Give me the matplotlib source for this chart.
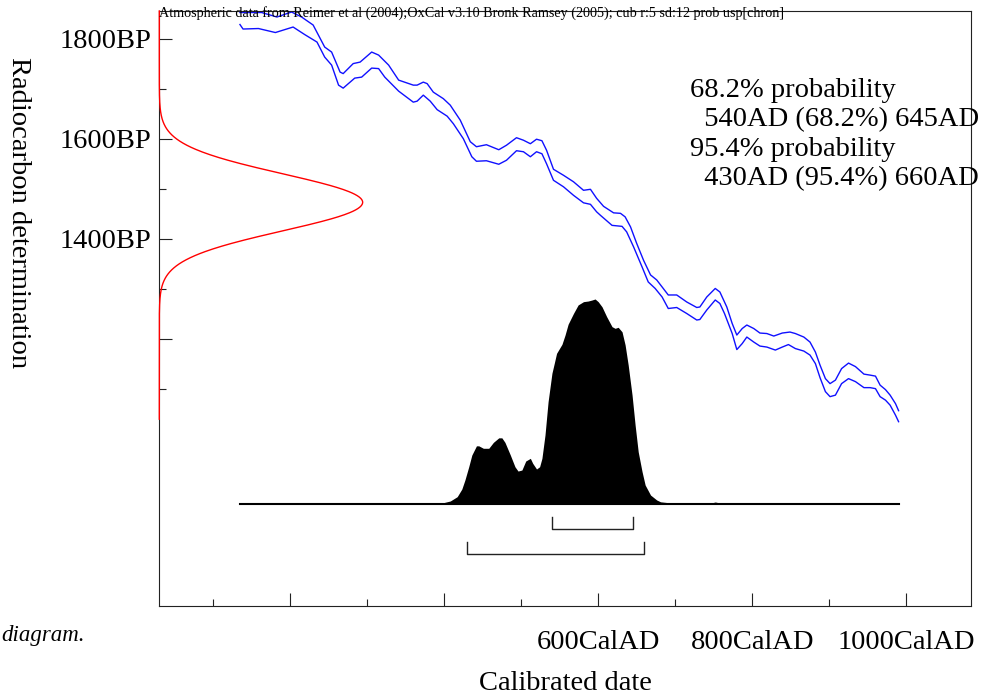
import numpy as np
import matplotlib.pyplot as plt

plt.rcParams['font.family'] = ['Liberation Serif', 'DejaVu Serif']

# calibration curve envelope (upper and lower 1 sigma lines), cal AD vs BP
upper_year = [135, 163, 183, 202, 215, 230, 245, 254, 265, 269, 282, 291, 306, 315, 328,
              341, 360, 365, 373, 378, 386, 399, 408, 421, 434, 442, 455, 471, 481, 494,
              503, 512, 520, 527, 533, 542, 555, 568, 581, 590, 598, 607, 620, 629, 635,
              642, 650, 659, 668, 676, 683, 691, 702, 715, 728, 732, 741, 752, 758, 767,
              774, 780, 787, 793, 802, 810, 819, 828, 839, 849, 856, 867, 875, 882, 888,
              895, 901, 908, 916, 925, 934, 945, 953, 960, 966, 973, 979, 986, 990]
upper_bp = [1852, 1852, 1843, 1853, 1843, 1827, 1783, 1773, 1733, 1730, 1750, 1753, 1773, 1767, 1747,
            1717, 1707, 1707, 1713, 1710, 1693, 1680, 1667, 1637, 1594, 1584, 1588, 1578, 1587, 1602,
            1597, 1590, 1599, 1596, 1577, 1539, 1527, 1514, 1497, 1499, 1481, 1465, 1452, 1451, 1444,
            1424, 1391, 1357, 1328, 1318, 1304, 1288, 1288, 1274, 1263, 1264, 1284, 1301, 1294, 1264,
            1231, 1208, 1221, 1228, 1221, 1212, 1211, 1206, 1212, 1214, 1211, 1204, 1194, 1174, 1148,
            1121, 1111, 1118, 1141, 1152, 1145, 1130, 1128, 1126, 1108, 1099, 1088, 1071, 1057]

lower_year = [135, 139, 159, 181, 204, 219, 235, 245, 254, 263, 269, 284, 293, 306, 315,
              323, 341, 360, 365, 373, 382, 391, 404, 412, 425, 436, 442, 455, 471, 481,
              494, 503, 512, 520, 527, 533, 542, 555, 568, 581, 590, 598, 603, 618, 631,
              637, 646, 657, 665, 674, 683, 691, 702, 715, 728, 732, 741, 752, 758, 764,
              774, 780, 787, 793, 802, 810, 819, 830, 839, 847, 856, 867, 875, 882, 888,
              895, 901, 908, 916, 925, 934, 945, 953, 960, 966, 973, 979, 986, 990]
lower_bp = [1828, 1819, 1820, 1812, 1823, 1808, 1793, 1763, 1747, 1707, 1701, 1721, 1723, 1741, 1740,
            1723, 1695, 1673, 1675, 1687, 1675, 1658, 1645, 1630, 1600, 1564, 1555, 1556, 1549, 1557,
            1576, 1574, 1564, 1574, 1570, 1550, 1517, 1504, 1487, 1472, 1469, 1454, 1447, 1427, 1425,
            1414, 1384, 1344, 1314, 1301, 1284, 1261, 1263, 1251, 1238, 1239, 1258, 1278, 1271, 1251,
            1211, 1179, 1191, 1204, 1194, 1186, 1184, 1178, 1184, 1189, 1181, 1176, 1168, 1151, 1123,
            1095, 1085, 1088, 1111, 1121, 1115, 1103, 1103, 1101, 1085, 1078, 1068, 1048, 1035]

# calibrated probability distribution (relative)
dist_year = [135, 300, 380, 395, 408, 417, 423, 427, 432, 436, 442, 445, 451, 458, 464,
             471, 475, 479, 486, 492, 496, 501, 506, 512, 515, 520, 524, 527, 531, 535,
             540, 543, 546, 553, 557, 561, 568, 574, 581, 587, 592, 596, 600, 605, 611,
             618, 622, 626, 631, 635, 639, 644, 648, 652, 657, 661, 668, 676, 681, 700,
             740, 752, 765, 990]
dist_prob = [0, 0, 0.0, 0.003, 0.015, 0.036, 0.073, 0.117, 0.182, 0.239, 0.284, 0.284, 0.272, 0.272, 0.301,
             0.323, 0.323, 0.301, 0.239, 0.182, 0.161, 0.166, 0.21, 0.223, 0.199, 0.171, 0.182, 0.223, 0.337, 0.499,
             0.638, 0.686, 0.735, 0.779, 0.824, 0.877, 0.93, 0.971, 0.987, 0.99, 0.995, 1.0, 0.987, 0.962, 0.914,
             0.865, 0.857, 0.862, 0.84, 0.776, 0.678, 0.532, 0.385, 0.255, 0.158, 0.093, 0.044, 0.02, 0.011, 0.003,
             0.0, 0.01, 0.0, 0]

# radiocarbon determination
date_bp = 1473
date_sd = 57

# calibrated ranges
range_68 = [(540, 645)]
range_95 = [(430, 660)]

header = ("Atmospheric data from Reimer et al (2004);OxCal v3.10 Bronk Ramsey (2005); "
          "cub r:5 sd:12 prob usp[chron]")
summary = ["68.2% probability",
           "  540AD (68.2%) 645AD",
           "95.4% probability",
           "  430AD (95.4%) 660AD"]

x_major = [200, 400, 600, 800, 1000]
x_major_labels = ['', '', '600CalAD', '800CalAD', '1000CalAD']
x_minor = [100, 300, 500, 700, 900]
y_major = [1200, 1400, 1600, 1800]
y_major_labels = ['', '1400BP', '1600BP', '1800BP']
y_minor = [1100, 1300, 1500, 1700]

# layout
W, H = 987, 697
XMIN, XMAX = 30.3, 1084
YMIN, YMAX = 667, 1855
BASE_BP = 870.5
DIST_H = 409.5
RED_W = 264
FS = 20.5

fig = plt.figure(figsize=(W / 100, H / 100), dpi=100)
ax = fig.add_axes([159.3 / W, 1 - 606 / H, (971 - 159.3) / W, (606 - 11) / H])
ax.set_xlim(XMIN, XMAX)
ax.set_ylim(YMIN, YMAX)

# calibration curve
ax.plot(upper_year, upper_bp, color='#1010ff', lw=1.0)
ax.plot(lower_year, lower_bp, color='#1010ff', lw=1.0)

# radiocarbon date on the y axis
bp = np.linspace(1040, YMAX, 600)
g = np.exp(-0.5 * ((bp - date_bp) / date_sd) ** 2)
ax.plot(XMIN + g * RED_W, bp, color='red', lw=1.0, clip_on=False, zorder=5)

# calibrated distribution
dy = BASE_BP + np.array(dist_prob) * DIST_H
ax.fill_between(dist_year, BASE_BP, dy, color='black', lw=0)
ax.plot([dist_year[0], dist_year[-1]], [BASE_BP, BASE_BP], color='black', lw=1.5)

# range brackets
for rng, y0, y1 in [(range_68, 820.6, 844.5), (range_95, 770.7, 794.6)]:
    for a, b in rng:
        ax.plot([a, a, b, b], [y1, y0, y0, y1], color='#222222', lw=1.0)

ax.set_xticks(x_major)
ax.set_xticklabels(x_major_labels)
ax.set_xticks(x_minor, minor=True)
ax.set_yticks(y_major)
ax.set_yticklabels(y_major_labels)
ax.set_yticks(y_minor, minor=True)
ax.tick_params(which='both', direction='in', colors='#222222', labelcolor='black',
               labelsize=FS, width=0.8)
ax.tick_params(which='major', length=9.4)
ax.tick_params(which='minor', length=5)
ax.tick_params(axis='x', pad=17)
ax.tick_params(axis='y', pad=6)
for s in ax.spines.values():
    s.set_color('#222222')
    s.set_linewidth(0.8)

fig.text(159 / W, 1 - 17 / H, header, fontsize=10.2, va='baseline', ha='left')
for i, line in enumerate(summary):
    fig.text(690 / W, 1 - (97 + 29.3 * i) / H, line, fontsize=FS, va='baseline', ha='left')

fig.text(18 / W, 1 - 213 / H, "Radiocarbon determination", fontsize=FS, rotation=270,
         ha='center', va='center')
fig.text(565 / W, 1 - 690 / H, "Calibrated date", fontsize=FS, ha='center', va='baseline')
fig.text(1 / W, 1 - 641 / H, "diagram.", fontsize=16.5, style='italic', ha='left', va='baseline')

fig.savefig('out.png', dpi=100)
